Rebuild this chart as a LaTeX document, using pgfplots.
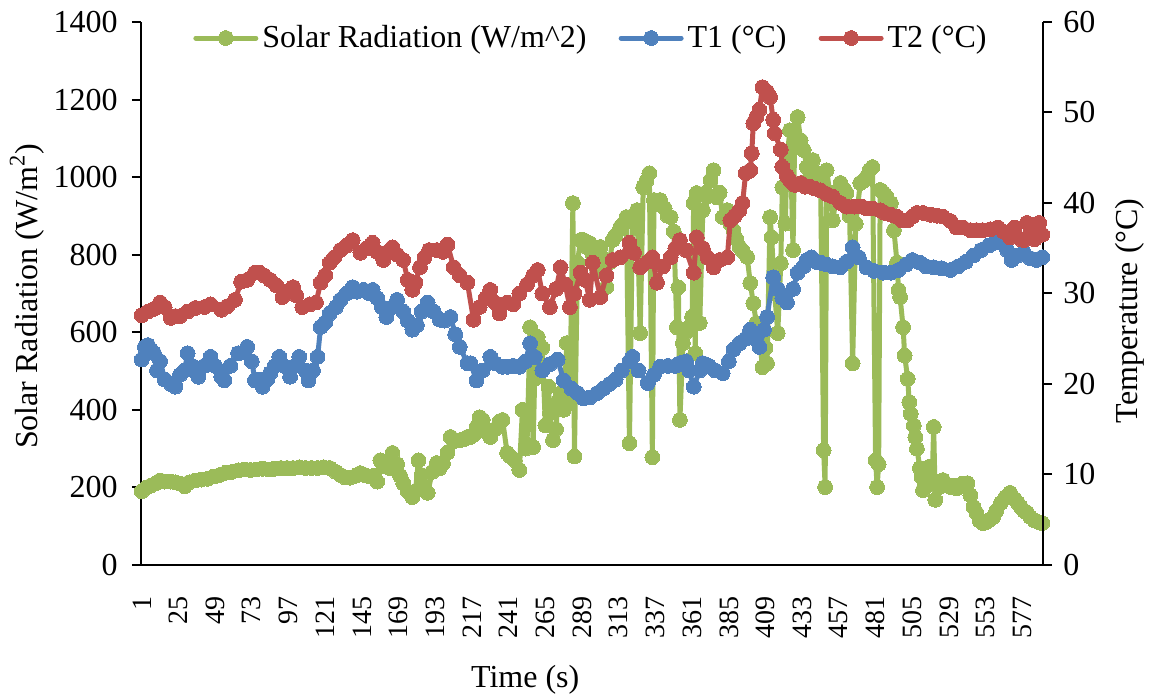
\documentclass[border=0pt]{standalone}
\usepackage{pgfplots}
\pgfplotsset{compat=1.18}
\usepackage{fontspec}
\setmainfont{Liberation Serif}
\definecolor{cgreen}{RGB}{155,187,89}
\definecolor{cblue}{RGB}{79,129,189}
\definecolor{cred}{RGB}{192,80,77}
\pgfplotsset{
  base/.style={scale only axis, width=451pt, height=271.5pt, at={(0,0)}, anchor=south west,
    xmin=0.5, xmax=590.5,
    /pgf/number format/assume math mode=true,
    /pgf/number format/1000 sep={},
    tick label style={font=\fontsize{16}{19}\selectfont},
    label style={font=\fontsize{16}{19}\selectfont},
    axis line style={line width=1pt, black},
    major tick style={line width=1pt, black},
    tick align=outside, major tick length=4.5pt,
  },
  ser/.style={color=#1, line width=2.5pt, line join=round, line cap=round, mark=*, mark size=3.7pt, mark options={solid, fill=#1, draw=#1, line width=0pt}},
  legend image code/.code={\draw[mark repeat=2,mark phase=2,#1] plot coordinates {(0pt,0pt) (15pt,0pt) (30pt,0pt)};},
}
\begin{document}
\begin{tikzpicture}
\useasboundingbox (-70.5pt,-65pt) rectangle (507.5pt,282.5pt);
\begin{axis}[base,
  ymin=0, ymax=1400, ytick={0,200,...,1400},
  axis y line*=left, axis x line*=bottom,
  xtick={1,25,...,577},
  x tick style={draw=none},
  xticklabel style={rotate=90, anchor=east, font=\fontsize{14}{17}\selectfont},
  xticklabel shift=7.8pt,
  yticklabel shift=3.7pt,
  xlabel={Time (s)},
  xlabel style={at={(axis description cs:0.426,-0.2118)}, anchor=center},
  ylabel={Solar Radiation (W/m\textsuperscript{2})},
  ylabel style={at={(axis description cs:-0.1264,0.495)}, anchor=center, rotate=0},
]
\addplot[ser=cgreen] coordinates {
(1,190)(4,200)(7,205)(10,210)(13,218)(16,215)(20,215)(23,213)(26,210)(29,203)(32,213)(36,218)(40,220)(44,222)(48,228)(52,232)(56,238)(60,240)(64,244)(68,246)(72,245)(76,246)(80,248)(84,246)(88,248)(92,250)(96,250)(100,250)(104,252)(108,250)(112,250)(116,250)(120,252)(124,250)(128,240)(131,232)(134,226)(137,225)(141,230)(144,237)(147,232)(150,228)(153,230)(155,215)(157,270)(159,255)(161,265)(163,250)(165,289)(168,260)(170,230)(172,211)(175,190)(178,175)(180,190)(182,270)(184,230)(186,200)(188,186)(191,240)(194,263)(196,250)(198,262)(201,290)(203,330)(206,320)(209,322)(212,325)(214,330)(216,330)(218,335)(220,356)(222,381)(224,374)(226,345)(229,330)(232,350)(235,370)(237,374)(240,289)(242,280)(245,270)(248,245)(250,400)(252,300)(253,310)(255,613)(257,304)(258,480)(260,588)(262,500)(263,560)(265,360)(267,460)(268,392)(270,322)(272,350)(273,420)(275,443)(277,400)(279,572)(281,420)(283,933)(284,280)(286,780)(288,838)(290,838)(292,820)(294,830)(296,800)(299,760)(301,820)(303,790)(305,717)(307,780)(309,838)(311,850)(314,871)(316,880)(318,897)(320,314)(322,900)(325,915)(327,598)(329,974)(331,990)(333,1010)(335,278)(336,941)(338,930)(340,941)(343,920)(345,900)(347,897)(349,860)(351,613)(352,716)(353,374)(355,572)(357,600)(359,613)(361,640)(362,933)(363,546)(364,959)(366,624)(368,915)(370,960)(371,950)(373,992)(375,1018)(377,948)(379,960)(381,897)(384,915)(386,880)(388,863)(390,840)(392,820)(394,810)(397,794)(399,727)(401,675)(403,624)(405,588)(407,510)(409,560)(410,520)(412,897)(413,845)(415,700)(417,598)(419,778)(420,974)(422,880)(423,1052)(425,1121)(427,812)(428,1080)(430,1155)(432,1095)(434,1070)(436,1026)(438,1000)(440,1044)(443,1010)(445,1000)(447,296)(448,201)(449,1018)(451,960)(453,889)(455,940)(458,985)(460,970)(462,959)(464,900)(466,520)(468,880)(471,985)(473,990)(475,1000)(477,1018)(479,1026)(481,270)(482,201)(483,260)(484,967)(486,960)(488,950)(491,933)(493,863)(495,780)(496,709)(497,691)(499,613)(500,540)(502,480)(503,420)(504,390)(506,360)(507,330)(508,300)(510,250)(511,227)(512,193)(514,240)(516,253)(518,220)(519,356)(520,168)(522,200)(525,219)(528,205)(530,201)(532,205)(534,198)(536,205)(538,210)(541,211)(543,180)(545,150)(547,134)(549,115)(551,108)(553,110)(555,115)(558,124)(560,140)(563,160)(566,175)(569,186)(572,170)(574,160)(576,149)(578,140)(580,135)(582,124)(585,115)(588,110)(590,108)
};
\end{axis}
\begin{axis}[base,
  ymin=0, ymax=60, ytick={0,10,...,60},
  axis y line*=right, axis x line=none,
  xtick=\empty,
  yticklabel shift=2.2pt,
  ylabel={Temperature (°C)},
  ylabel style={at={(axis description cs:1.0965,0.468)}, anchor=center, rotate=0},
  legend columns=3,
  legend style={draw=none, fill=none, at={(0.5,0.9705)}, anchor=center,
    font=\fontsize{16}{19}\selectfont,
    /tikz/every even column/.append style={column sep=14pt}},
]
\addlegendimage{ser=cgreen}
\addlegendentry{Solar Radiation (W/m\textasciicircum 2)}
\addplot[ser=cblue] coordinates {
(1,22.7)(3,24.1)(5,24.3)(7,23.8)(9,23.4)(11,21.5)(13,22.5)(16,20.5)(20,20.0)(23,19.7)(26,21.0)(29,21.5)(31,23.4)(34,22.0)(38,20.8)(42,22.0)(46,23.0)(49,22.0)(53,20.8)(55,20.4)(59,22.0)(64,23.4)(68,23.5)(70,24.1)(73,22.5)(75,20.4)(78,20.5)(80,19.7)(83,20.5)(85,21.2)(88,22.0)(91,23.0)(94,22.0)(98,20.8)(101,22.0)(104,23.0)(108,21.5)(110,20.4)(113,21.5)(116,23.0)(118,26.3)(121,26.8)(124,27.8)(128,28.5)(131,29.3)(135,30.0)(139,30.7)(142,30.2)(146,30.4)(150,30.0)(152,30.4)(155,29.5)(158,28.5)(161,27.4)(165,28.5)(168,29.3)(172,28.0)(175,27.0)(178,26.0)(181,26.5)(184,28.0)(188,29.0)(192,28.0)(196,27.1)(199,27.0)(203,27.4)(206,25.5)(209,24.1)(214,22.3)(216,22.3)(220,20.4)(224,21.5)(229,23.0)(232,22.3)(237,21.9)(240,21.9)(244,22.0)(248,21.9)(252,22.5)(255,24.5)(258,23.0)(263,21.5)(268,22.2)(273,22.7)(277,20.4)(282,19.5)(286,19.0)(290,18.4)(294,18.5)(299,19.0)(303,19.5)(307,20.0)(311,20.5)(315,21.5)(320,22.5)(322,23.0)(326,21.5)(332,20.1)(336,21.0)(340,21.9)(345,22.0)(350,22.0)(353,22.3)(357,22.5)(359,21.5)(362,19.7)(366,21.5)(368,22.3)(372,22.0)(376,21.5)(381,21.2)(385,22.5)(388,23.8)(392,24.5)(396,25.0)(399,26.0)(402,25.0)(405,24.1)(408,26.0)(410,27.4)(414,31.8)(417,30.5)(420,29.5)(423,29.0)(427,30.5)(430,32.3)(434,33.0)(436,33.7)(439,34.0)(442,33.5)(445,33.4)(449,33.2)(453,33.0)(458,32.9)(462,33.5)(466,35.1)(470,34.0)(475,32.9)(480,32.5)(486,32.3)(491,32.3)(496,32.6)(501,33.2)(505,33.7)(510,33.4)(514,33.0)(519,32.9)(524,32.8)(530,32.6)(535,33.0)(540,33.5)(545,34.2)(550,34.8)(555,35.3)(559,35.6)(563,36.2)(567,34.8)(570,33.7)(574,34.2)(578,34.5)(582,33.9)(586,33.7)(590,34.0)
};
\addlegendentry{T1 (°C)}
\addplot[ser=cred] coordinates {
(1,27.6)(5,28.0)(9,28.3)(13,29.0)(16,28.5)(20,27.3)(23,27.5)(26,27.5)(31,28.0)(36,28.4)(42,28.5)(46,28.8)(53,28.2)(57,28.6)(62,29.3)(66,31.3)(70,31.5)(75,32.3)(78,32.3)(81,32.0)(85,31.5)(89,30.9)(93,29.6)(98,30.4)(100,30.7)(102,29.8)(106,28.5)(111,28.8)(115,29.0)(118,31.2)(121,32.0)(124,33.4)(127,34.0)(131,34.8)(135,35.3)(139,35.9)(144,34.5)(148,35.0)(152,35.6)(155,34.6)(159,33.7)(162,34.6)(165,35.1)(168,34.3)(172,33.7)(175,31.5)(178,30.4)(180,31.2)(183,32.9)(186,34.0)(189,34.8)(194,34.8)(198,34.6)(201,35.4)(205,32.9)(209,32.0)(214,31.2)(218,27.1)(222,28.5)(226,29.5)(229,30.4)(232,29.0)(235,27.8)(240,29.0)(244,28.8)(248,30.0)(253,31.0)(257,32.0)(260,32.6)(263,30.0)(268,28.5)(272,30.5)(275,32.9)(278,31.0)(281,28.5)(284,30.0)(288,32.3)(291,31.5)(294,29.3)(296,33.4)(301,29.6)(305,32.0)(309,33.7)(314,34.0)(320,35.6)(323,34.5)(327,32.9)(332,33.5)(335,34.0)(338,31.2)(342,33.0)(347,34.0)(350,35.0)(353,35.9)(357,34.8)(362,32.3)(364,36.2)(368,35.0)(371,34.0)(375,32.9)(379,33.7)(384,34.0)(386,38.1)(389,38.6)(392,39.2)(394,40.0)(396,43.3)(399,43.6)(400,45.5)(401,48.8)(403,49.5)(405,50.3)(407,52.8)(410,52.3)(412,51.7)(414,49.2)(415,47.7)(419,45.9)(420,44.0)(423,43.0)(425,42.5)(428,42.0)(432,42.2)(435,41.8)(438,41.8)(441,41.6)(445,41.4)(449,41.0)(453,40.7)(458,40.0)(462,39.6)(467,39.6)(472,39.6)(475,39.4)(479,39.4)(484,39.2)(487,38.9)(491,38.7)(495,38.5)(498,38.1)(502,38.1)(505,38.5)(508,38.9)(512,38.9)(517,38.7)(521,38.6)(525,38.5)(530,38.0)(534,37.3)(538,37.3)(543,37.0)(547,37.0)(551,37.0)(556,37.1)(561,37.3)(565,36.8)(569,36.2)(572,37.3)(576,36.0)(578,35.9)(580,37.8)(582,36.5)(585,36.0)(588,37.8)(590,36.5)
};
\addlegendentry{T2 (°C)}
\end{axis}
\end{tikzpicture}
\end{document}
